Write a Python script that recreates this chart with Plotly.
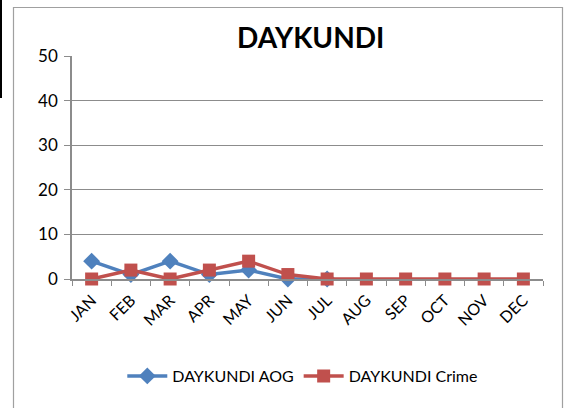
import plotly.graph_objects as go

months = ["JAN", "FEB", "MAR", "APR", "MAY", "JUN", "JUL", "AUG", "SEP", "OCT", "NOV", "DEC"]
aog = [4, 1, 4, 1, 2, 0, 0, None, None, None, None, None]
crime = [0, 2, 0, 2, 4, 1, 0, 0, 0, 0, 0, 0]
y_ticks = [0, 10, 20, 30, 40, 50]

W, H = 567, 408
L, R, T, B = 72, 24, 56, 129
pw, ph = W - L - R, H - T - B

def px(x):
    return (x - L) / pw

def py(y):
    return (H - B - y) / ph

FONT = "Lato, 'Open Sans', sans-serif"
BLUE = "#4F81BD"
RED = "#C0504D"
GRID = "#8C8C8C"

fig = go.Figure()
fig.add_trace(go.Scatter(
    x=months, y=aog, name="DAYKUNDI AOG", mode="lines+markers",
    line=dict(color=BLUE, width=3.5),
    marker=dict(symbol="diamond", size=13, color=BLUE),
    cliponaxis=False,
))
fig.add_trace(go.Scatter(
    x=months, y=crime, name="DAYKUNDI Crime", mode="lines+markers",
    line=dict(color=RED, width=3.5),
    marker=dict(symbol="square", size=13, color=RED),
    cliponaxis=False,
))

fig.update_layout(
    width=W, height=H,
    margin=dict(l=L, r=R, t=T, b=B),
    paper_bgcolor="white", plot_bgcolor="white",
    font=dict(family=FONT, color="black"),
    showlegend=True,
    legend=dict(orientation="h", x=0.49, xanchor="center", y=py(376), yanchor="middle",
                font=dict(size=16, family=FONT), itemwidth=40, traceorder="normal"),
    annotations=[dict(text="<b>DAYKUNDI</b>", x=px(310), y=py(37), xref="paper", yref="paper",
                      showarrow=False, font=dict(size=28, family=FONT), xanchor="center", yanchor="middle")],
    shapes=[
        dict(type="rect", xref="paper", yref="paper", x0=px(13.5), x1=px(562.5), y0=py(409), y1=py(7.5),
             line=dict(color="#A0A0A0", width=1.2), fillcolor="rgba(0,0,0,0)", layer="below"),
        dict(type="line", xref="paper", yref="paper", x0=px(1), x1=px(1), y0=py(0), y1=py(98),
             line=dict(color="black", width=2)),
    ],
)
fig.update_xaxes(
    type="category", tickangle=-45, tickfont=dict(size=16, family=FONT),
    showline=True, linecolor=GRID, linewidth=1.5,
    ticks="outside", ticklen=5, tickcolor=GRID, tickson="boundaries",
    ticklabelstandoff=4,
    showgrid=False, range=[-0.5, 11.5],
)
fig.update_yaxes(
    range=[0, 50], tickvals=y_ticks, tickfont=dict(size=17, family=FONT),
    showgrid=True, gridcolor=GRID, gridwidth=1.2, zeroline=False,
    showline=True, linecolor=GRID, linewidth=1.5,
    ticks="outside", ticklen=6, tickcolor=GRID, ticklabelstandoff=3,
)
fig.write_html("out.html", config={"displayModeBar": False},
               post_script="document.body.style.margin='0';document.body.style.padding='0';document.body.style.overflow='hidden';")
